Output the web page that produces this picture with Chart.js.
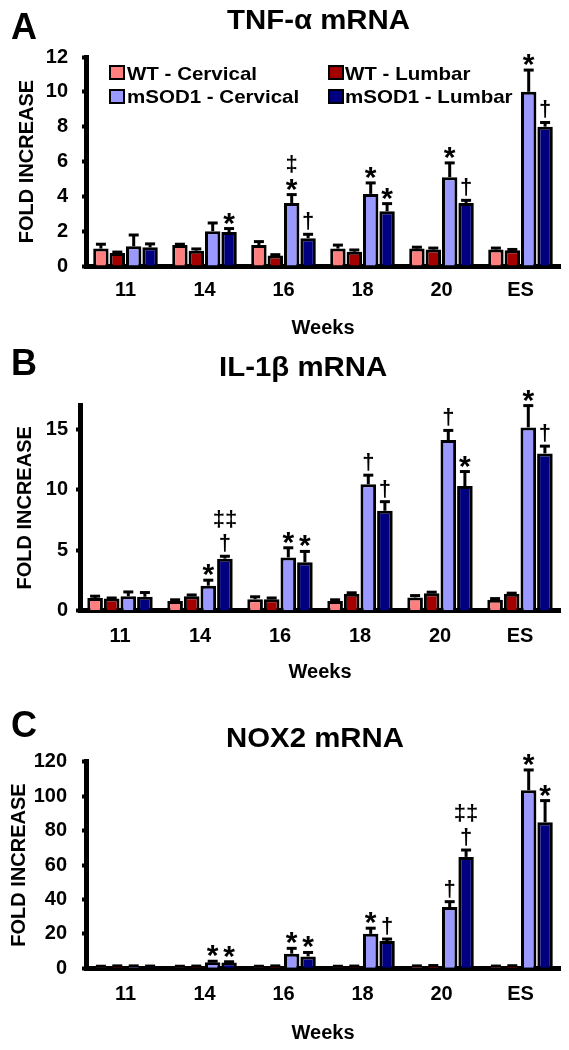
<!DOCTYPE html>
<html><head><meta charset="utf-8">
<script src="https://cdn.jsdelivr.net/npm/chart.js@4.4.0/dist/chart.umd.min.js"></script>
<style>
html,body{margin:0;padding:0;background:#fff;}
body{width:569px;height:1050px;position:relative;overflow:hidden;font-family:'Liberation Sans',Arial,sans-serif;font-weight:bold;color:#000;}
.abs{position:absolute;white-space:nowrap;line-height:1;transform-origin:0 0;}
.panel{position:absolute;left:0;width:569px;}
.sq{position:absolute;box-sizing:border-box;width:16px;height:15px;border:2.5px solid #000;}
</style></head><body>
<div id="page"></div>
<script>
// ---------- data ----------
const categories = ['11', '14', '16', '18', '20', 'ES'];
const seriesNames = ['WT - Cervical', 'WT - Lumbar', 'mSOD1 - Cervical', 'mSOD1 - Lumbar'];
const seriesColors = ['#FF7F7F', '#A50000', '#9999FF', '#000080'];

// Panel A: TNF-alpha mRNA
const tnfWtCervical     = [1.0, 1.2, 1.2, 1.0, 1.0, 0.95];
const tnfWtCervicalErr  = [0.25, 0.05, 0.2, 0.2, 0.08, 0.08];
const tnfWtLumbar       = [0.75, 0.88, 0.6, 0.82, 0.95, 0.9];
const tnfWtLumbarErr    = [0.05, 0.1, 0.05, 0.1, 0.08, 0.05];
const tnfMCervical      = [1.13, 2.0, 3.62, 4.14, 5.1, 10.0];
const tnfMCervicalErr   = [0.65, 0.47, 0.48, 0.63, 0.82, 1.25];
const tnfMLumbar        = [1.07, 1.95, 1.6, 3.14, 3.62, 8.0];
const tnfMLumbarErr     = [0.2, 0.2, 0.22, 0.44, 0.15, 0.24];
const tnfSigMCervical   = ['', '', '*|‡', '*', '*', '*'];
const tnfSigMLumbar     = ['', '*', '†', '*', '†', '†'];

// Panel B: IL-1beta mRNA
const il1WtCervical     = [1.05, 0.8, 0.95, 0.8, 1.1, 0.9];
const il1WtCervicalErr  = [0.15, 0.1, 0.2, 0.1, 0.15, 0.1];
const il1WtLumbar       = [1.0, 1.2, 0.95, 1.4, 1.45, 1.4];
const il1WtLumbarErr    = [0.05, 0.1, 0.1, 0.08, 0.08, 0.05];
const il1MCervical      = [1.2, 2.07, 4.4, 10.45, 14.1, 15.15];
const il1MCervicalErr   = [0.35, 0.45, 0.8, 0.75, 0.8, 1.8];
const il1MLumbar        = [1.15, 4.3, 4.0, 8.26, 10.3, 13.0];
const il1MLumbarErr     = [0.35, 0.2, 0.9, 0.75, 1.2, 0.6];
const il1SigMCervical   = ['', '*', '*', '†', '†', '*'];
const il1SigMLumbar     = ['', '†|‡‡', '*', '†', '*', '†'];

// Panel C: NOX2 mRNA
const noxWtCervical     = [1.0, 1.0, 1.0, 1.0, 1.2, 1.1];
const noxWtCervicalErr  = [0.2, 0.2, 0.2, 0.2, 0.2, 0.2];
const noxWtLumbar       = [1.2, 1.1, 1.2, 1.1, 1.4, 1.3];
const noxWtLumbarErr    = [0.2, 0.2, 0.2, 0.2, 0.2, 0.2];
const noxMCervical      = [1.1, 3.5, 8.5, 20.0, 35.6, 103.4];
const noxMCervicalErr   = [0.3, 0.6, 3.1, 3.3, 3.1, 11.8];
const noxMLumbar        = [1.0, 3.3, 6.9, 15.8, 64.7, 84.8];
const noxMLumbarErr     = [0.3, 0.5, 2.3, 1.2, 4.0, 12.6];
const noxSigMCervical   = ['', '*', '*', '*', '†', '*'];
const noxSigMLumbar     = ['', '*', '*', '†', '†|‡‡', '*'];

const yTicksA = [0, 2, 4, 6, 8, 10, 12];
const yTicksB = [0, 5, 10, 15];
const yTicksC = [0, 20, 40, 60, 80, 100, 120];

// ---------- page ----------
const FONT = "'Liberation Sans', Arial, sans-serif";
function addText(txt, left, baseline, size, center, stretch) {
  const d = document.createElement('div');
  d.className = 'abs';
  d.textContent = txt;
  d.style.fontSize = size + 'px';
  d.style.top = (baseline - 0.8465 * size) + 'px';
  document.body.appendChild(d);
  const sx = stretch || 1;
  const w = d.getBoundingClientRect().width * sx;
  d.style.left = (center ? left - w / 2 : left) + 'px';
  d.style.transform = 'scaleX(' + sx + ')';
  return d;
}

const panels = [
  { letter: 'A', title: 'TNF-α mRNA', titleX: 319, titleBase: 30, letterBase: 39,
    top: 0, h: 345, chartTop: 57, chartBottom: 266, left: 86, max: 12, step: 2, ticks: yTicksA,
    yPad: 14, yTitlePad: 15, xPad: 12, wPad: 5,
    series: [[tnfWtCervical, tnfWtCervicalErr, null], [tnfWtLumbar, tnfWtLumbarErr, null],
             [tnfMCervical, tnfMCervicalErr, tnfSigMCervical], [tnfMLumbar, tnfMLumbarErr, tnfSigMLumbar]] },
  { letter: 'B', title: 'IL-1β mRNA', titleX: 303, titleBase: 377, letterBase: 375.5,
    top: 345, h: 345, chartTop: 60, chartBottom: 265.7, left: 80, max: 17, step: 5, ticks: yTicksB,
    yPad: 8, yTitlePad: 13, xPad: 14, wPad: 6,
    series: [[il1WtCervical, il1WtCervicalErr, null], [il1WtLumbar, il1WtLumbarErr, null],
             [il1MCervical, il1MCervicalErr, il1SigMCervical], [il1MLumbar, il1MLumbarErr, il1SigMLumbar]] },
  { letter: 'C', title: 'NOX2 mRNA', titleX: 315, titleBase: 748, letterBase: 737,
    top: 690, h: 360, chartTop: 71.7, chartBottom: 278.3, left: 86, max: 120, step: 20, ticks: yTicksC,
    yPad: 15, yTitlePad: 7, xPad: 14.5, wPad: 5,
    series: [[noxWtCervical, noxWtCervicalErr, null], [noxWtLumbar, noxWtLumbarErr, null],
             [noxMCervical, noxMCervicalErr, noxSigMCervical], [noxMLumbar, noxMLumbarErr, noxSigMLumbar]] }
];

const errorBarPlugin = {
  id: 'errorBars',
  afterDatasetsDraw(chart) {
    const ctx = chart.ctx, ys = chart.scales.y;
    chart.data.datasets.forEach((ds, i) => {
      const meta = chart.getDatasetMeta(i);
      meta.data.forEach((bar, j) => {
        const v = ds.data[j], e = ds.errors[j];
        const yTop = ys.getPixelForValue(v + e);
        const x = bar.x;
        ctx.save();
        ctx.strokeStyle = '#000';
        ctx.lineWidth = 3;
        ctx.beginPath(); ctx.moveTo(x, bar.y); ctx.lineTo(x, yTop); ctx.stroke();
        ctx.beginPath(); ctx.moveTo(x - 5, yTop); ctx.lineTo(x + 5, yTop); ctx.stroke();
        const sig = ds.sig ? ds.sig[j] : '';
        if (sig) {
          let base = yTop - 4;
          ctx.fillStyle = '#000';
          ctx.textAlign = 'center';
          ctx.textBaseline = 'alphabetic';
          sig.split('|').forEach(s => {
            ctx.font = 'bold ' + (s === '*' ? 30 : 22) + 'px ' + FONT;
            const m = ctx.measureText(s);
            const baseline = base - m.actualBoundingBoxDescent;
            ctx.fillText(s, x, baseline);
            base = baseline - m.actualBoundingBoxAscent - 6;
          });
        }
        ctx.restore();
      });
    });
  }
};

panels.forEach((p) => {
  const wrap = document.createElement('div');
  wrap.className = 'panel';
  wrap.style.top = p.top + 'px';
  wrap.style.height = p.h + 'px';
  const cv = document.createElement('canvas');
  cv.width = 569; cv.height = p.h;
  cv.style.width = '569px'; cv.style.height = p.h + 'px';
  wrap.appendChild(cv);
  document.body.appendChild(wrap);

  addText(p.letter, 11, p.letterBase, 36, false, 1);
  addText(p.title, p.titleX, p.titleBase, 28, true, 1.05);

  const tickFont = { family: FONT, size: 20, weight: 'bold' };
  new Chart(cv, {
    type: 'bar',
    data: {
      labels: categories,
      datasets: p.series.map((s, k) => ({
        label: seriesNames[k],
        data: s[0], errors: s[1], sig: s[2],
        backgroundColor: seriesColors[k],
        borderColor: '#000', borderWidth: 3,
        categoryPercentage: 0.83, barPercentage: 0.94
      }))
    },
    options: {
      responsive: false, animation: false, devicePixelRatio: 1,
      layout: { padding: { top: p.chartTop, right: 9, left: 0, bottom: 0 } },
      plugins: { legend: { display: false }, tooltip: { enabled: false }, title: { display: false } },
      scales: {
        x: {
          z: 1,
          grid: { display: false, drawTicks: false },
          border: { display: true, color: '#000', width: 5 },
          ticks: { color: '#000', font: tickFont, padding: p.xPad, maxRotation: 0 },
          title: { display: true, text: 'Weeks', color: '#000', font: tickFont, padding: { top: 0, bottom: p.wPad } },
          afterFit: s => { s.height = p.h - p.chartBottom; }
        },
        y: {
          z: 1,
          min: 0, max: p.max,
          grid: { display: true, drawOnChartArea: false, drawTicks: true, tickLength: 4, tickWidth: 4, tickColor: '#000' },
          border: { display: true, color: '#000', width: 5 },
          ticks: { color: '#000', font: tickFont, padding: p.yPad, stepSize: p.step },
          afterBuildTicks: axis => { axis.ticks = p.ticks.map(v => ({ value: v })); },
          title: { display: true, text: 'FOLD INCREASE', color: '#000', font: tickFont, padding: { top: p.yTitlePad, bottom: 0 } },
          afterFit: s => { s.width = p.left; }
        }
      }
    },
    plugins: [errorBarPlugin]
  });
});

// legend for panel A (HTML, built from the series arrays)
const legendPos = [[109, 65, 127, 80], [328, 65, 345, 80], [109, 89, 127, 103.5], [328, 89, 345, 103.5]];
seriesNames.forEach((name, k) => {
  const [sx, sy, tx, tb] = legendPos[k];
  const sq = document.createElement('div');
  sq.className = 'sq';
  sq.style.left = sx + 'px'; sq.style.top = sy + 'px';
  sq.style.background = seriesColors[k];
  document.body.appendChild(sq);
  addText(name, tx, tb, 19, false, 1.08);
});
</script>
</body></html>
